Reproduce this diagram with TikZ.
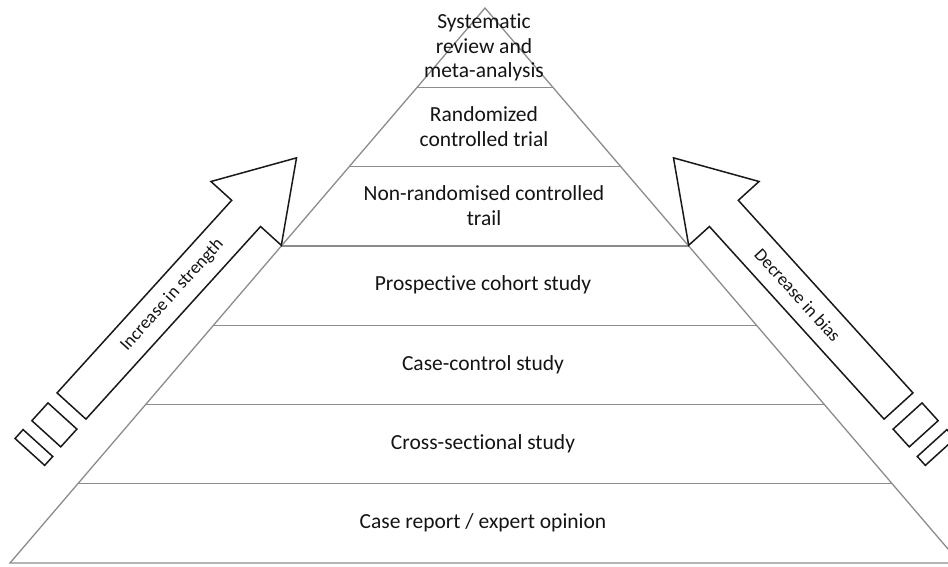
\documentclass[tikz,border=0pt]{standalone}
\usepackage{fontspec}
\setmainfont{Carlito}[Ligatures={NoCommon}]
\usetikzlibrary{calc}
\definecolor{pyr}{RGB}{140,140,140}
\definecolor{ink}{RGB}{25,25,25}
\definecolor{txt}{RGB}{20,20,20}
\begin{document}
\begin{tikzpicture}[x=1pt,y=-1pt,
  pyrline/.style={draw=pyr,line width=1.3pt},
  arrowshape/.style={draw=ink,line width=1.5pt,line join=miter,fill=white},
  level/.style={font=\fontsize{21.5}{24.5}\selectfont,text=txt,align=center,inner sep=0pt},
  arrowlabel/.style={font=\fontsize{18}{20}\selectfont,text=txt,inner sep=0pt}]
\useasboundingbox (0,0) rectangle (948,566);
\clip (0,0) rectangle (948,566);
% pyramid
\coordinate (A) at (485,8);
\coordinate (L) at (10,563);
\coordinate (R) at (960,563);
\draw[pyrline] (L) -- (A) -- (R) -- cycle;
\foreach \k in {1,...,6}
  \draw[pyrline] ($(L)!\k/7!(A)$) -- ($(R)!\k/7!(A)$);
% left arrow
\begin{scope}[shift={(71.5,406)},rotate=47.8]
  \draw[arrowshape] (0,-19.5) -- (260,-19.5) -- (260,-47.5) -- (335,0)
     -- (260,47.5) -- (260,19.5) -- (0,19.5) -- cycle;
  \draw[arrowshape] (-13.5,-19.5) rectangle (-37.5,19.5);
  \draw[arrowshape] (-50,-20) rectangle (-62,20);
  \coordinate (lt) at (150,0);
\end{scope}
% right arrow (mirror)
\begin{scope}[xshift=970pt,xscale=-1]
\begin{scope}[shift={(71.5,406)},rotate=47.8]
  \draw[arrowshape] (0,-19.5) -- (260,-19.5) -- (260,-47.5) -- (335,0)
     -- (260,47.5) -- (260,19.5) -- (0,19.5) -- cycle;
  \draw[arrowshape] (-13.5,-19.5) rectangle (-37.5,19.5);
  \draw[arrowshape] (-50,-20) rectangle (-62,20);
  \coordinate (rt) at (150,0);
\end{scope}
\end{scope}
\node[arrowlabel,rotate=47.8] (inc) at (lt) {Increase in strength};
\node[arrowlabel,rotate=-47.8] (dec) at (rt) {Decrease in bias};
% level labels
\node[level] (l1) at (483,523) {Case report / expert opinion};
\node[level] (l2) at (483,444) {Cross-sectional study};
\node[level] (l3) at (483,364.5) {Case-control study};
\node[level] (l4) at (483,285) {Prospective cohort study};
\node[level] (l5) at (484,205.5) {Non-randomised controlled\\trail};
\node[level] (l6) at (484,126.5) {Randomized\\controlled trial};
\node[level] (l7) at (484,47.5) {Systematic\\review and\\meta-analysis};
\end{tikzpicture}
\end{document}
